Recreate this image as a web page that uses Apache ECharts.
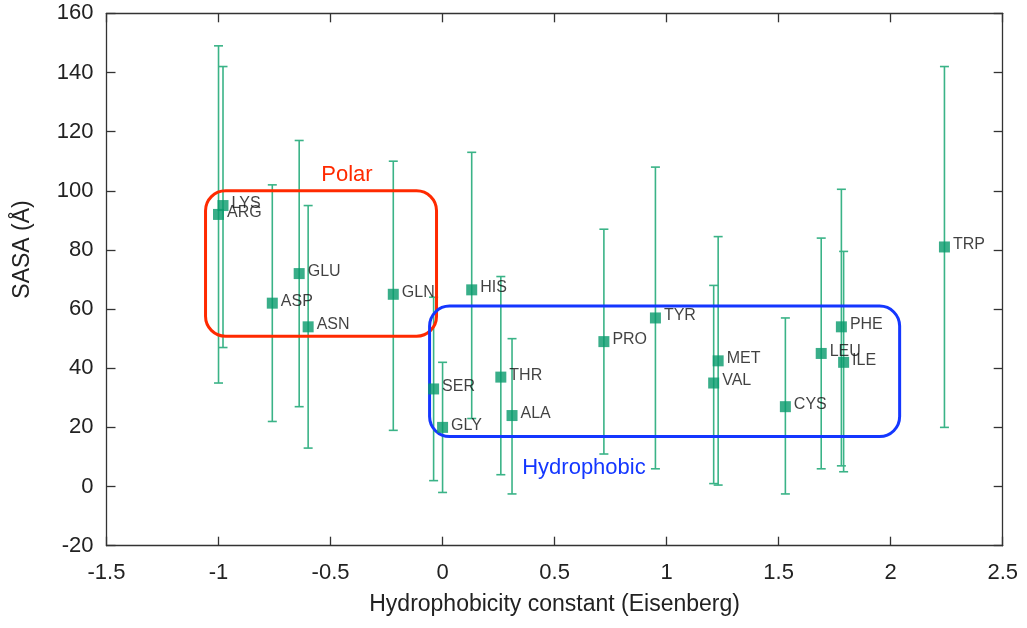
<!DOCTYPE html>
<html>
<head>
<meta charset="utf-8">
<script src="https://cdn.jsdelivr.net/npm/echarts@6/dist/echarts.min.js"></script>
<style>html,body{margin:0;padding:0;background:#fff;}#c{width:1027px;height:628px;}</style>
</head>
<body>
<div id="c"></div>
<script>
const names = ['LYS','ARG','ASP','GLU','ASN','GLN','SER','GLY','HIS','THR','ALA','PRO','TYR','VAL','MET','CYS','LEU','PHE','ILE','TRP'];
const hydro = [-0.98,-1.00,-0.76,-0.64,-0.60,-0.22,-0.04,0.00,0.13,0.26,0.31,0.72,0.95,1.21,1.23,1.53,1.69,1.78,1.79,2.24];
const sasa  = [95,92,62,72,54,65,33,20,66.5,37,24,49,57,35,42.5,27,45,54,42,81];
const upper = [142,149,102,117,95,110,64,42,113,71,50,87,108,68,84.5,57,84,100.5,79.5,142];
const lower = [47,35,22,27,13,19,2,-2,23,4,-2.5,11,6,1,0.5,-2.5,6,7,5,20];

const groupNames = ['Polar','Hydrophobic'];
const groupBoxes = [[-1.058,100,-0.027,50.8],[-0.058,61,2.04,16.9]];
const groupLabelPos = [[-0.427,105.4],[0.631,6.4]];
const groupColors = ['#ff2a00','#1437ff'];

const xTicks = [-1.5,-1,-0.5,0,0.5,1,1.5,2,2.5];
const yTicks = [-20,0,20,40,60,80,100,120,140,160];

const FONT = '"Liberation Sans", Arial, Helvetica, sans-serif';
const chart = echarts.init(document.getElementById('c'));

const pts = names.map((n,i)=>({name:n, value:[hydro[i], sasa[i]]}));
const errs = names.map((n,i)=>[hydro[i], lower[i], upper[i]]);
const boxes = groupBoxes.map((b,i)=>[b[0],b[1],b[2],b[3],groupLabelPos[i][0],groupLabelPos[i][1],i]);

const axisCommon = {
  axisLine:{show:true, onZero:false, lineStyle:{color:'#333', width:1.3}},
  axisTick:{show:true, inside:true, length:9, lineStyle:{color:'#333', width:1.3}},
  splitLine:{show:false}
};

chart.setOption({
  animation:false,
  backgroundColor:'#fff',
  grid:{left:106.5, right:24.3, top:13.3, bottom:82.3},
  xAxis:[
    Object.assign({type:'value', min:xTicks[0], max:xTicks[xTicks.length-1], interval:0.5, position:'bottom',
      name:'Hydrophobicity constant (Eisenberg)', nameLocation:'middle', nameGap:47,
      nameTextStyle:{fontFamily:FONT, fontSize:23, color:'#222'},
      axisLabel:{fontFamily:FONT, fontSize:22, color:'#222', margin:16}}, axisCommon),
    Object.assign({type:'value', min:xTicks[0], max:xTicks[xTicks.length-1], interval:0.5, position:'top',
      axisLabel:{show:false}}, axisCommon)
  ],
  yAxis:[
    Object.assign({type:'value', min:yTicks[0], max:yTicks[yTicks.length-1], interval:20, position:'left',
      name:'SASA (Å)', nameLocation:'middle', nameGap:72,
      nameTextStyle:{fontFamily:FONT, fontSize:23, color:'#222', padding:[0,0,0,60]},
      axisLabel:{fontFamily:FONT, fontSize:22, color:'#222', margin:13}}, axisCommon),
    Object.assign({type:'value', min:yTicks[0], max:yTicks[yTicks.length-1], interval:20, position:'right',
      axisLabel:{show:false}}, axisCommon)
  ],
  series:[
    {
      type:'custom', xAxisIndex:0, yAxisIndex:0, z:1,
      data:errs,
      renderItem:function(params, api){
        const x = api.value(0);
        const lo = api.coord([x, api.value(1)]);
        const hi = api.coord([x, api.value(2)]);
        const hw = 4.5;
        const st = {stroke:'#3ab387', lineWidth:1.6};
        return {type:'group', children:[
          {type:'line', shape:{x1:lo[0],y1:lo[1],x2:hi[0],y2:hi[1]}, style:st},
          {type:'line', shape:{x1:lo[0]-hw,y1:lo[1],x2:lo[0]+hw,y2:lo[1]}, style:st},
          {type:'line', shape:{x1:hi[0]-hw,y1:hi[1],x2:hi[0]+hw,y2:hi[1]}, style:st}
        ]};
      }
    },
    {
      type:'scatter', xAxisIndex:0, yAxisIndex:0, z:3,
      symbol:'rect', symbolSize:11,
      itemStyle:{color:'#079a6c'},
      label:{show:true, position:'right', distance:3, offset:[0,-2], formatter:'{b}', fontFamily:FONT, fontSize:16, color:'#111'},
      data:pts
    },
    {
      type:'custom', xAxisIndex:0, yAxisIndex:0, z:2,
      data:boxes,
      renderItem:function(params, api){
        const p0 = api.coord([api.value(0), api.value(1)]);
        const p1 = api.coord([api.value(2), api.value(3)]);
        const lp = api.coord([api.value(4), api.value(5)]);
        const idx = api.value(6);
        const col = groupColors[idx];
        const x = Math.min(p0[0],p1[0]), y = Math.min(p0[1],p1[1]);
        return {type:'group', children:[
          {type:'rect', shape:{x:x, y:y, width:Math.abs(p1[0]-p0[0]), height:Math.abs(p1[1]-p0[1]), r:20},
            style:{fill:'none', stroke:col, lineWidth:3}},
          {type:'text', x:lp[0], y:lp[1], style:{text:groupNames[idx], fill:col, font:'22px '+FONT, textAlign:'center', textVerticalAlign:'middle'}}
        ]};
      }
    }
  ]
});
</script>
</body>
</html>
